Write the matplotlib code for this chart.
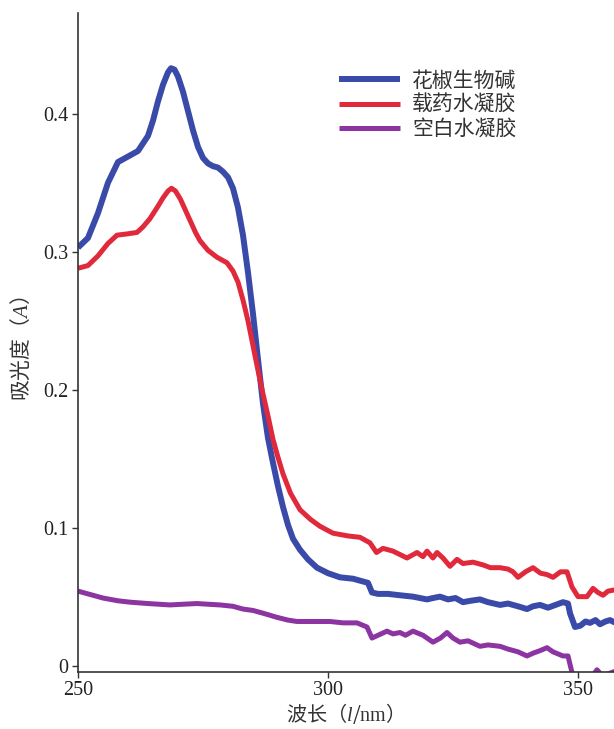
import matplotlib
matplotlib.use("Agg")
import matplotlib.pyplot as plt
from matplotlib.ticker import FixedLocator, FuncFormatter

plt.rcParams['font.family'] = ['Noto Sans CJK SC', 'DejaVu Sans']
plt.rcParams['mathtext.fontset'] = 'custom'
plt.rcParams['mathtext.rm'] = 'Liberation Serif'
plt.rcParams['mathtext.it'] = 'Liberation Serif:italic'

series_names = ["花椒生物碱", "载药水凝胶", "空白水凝胶"]

x_blue = [250, 252, 254, 256, 258, 260, 262, 264, 265, 266, 267, 268, 268.6, 269.3, 270, 271, 272, 273, 274,
          275, 276, 277, 278, 279, 280, 281, 282, 283, 284, 285, 286, 287, 288, 289, 290, 291, 292, 293,
          294.4, 296, 297.8, 300, 302.4, 305, 307, 308, 308.8, 310, 312,
          314.4, 317, 319.8, 321, 322.4, 324, 325.5, 327, 328.5, 330.4, 332, 334.4, 336, 338, 339.8, 341,
          342.4, 344, 345.5, 347, 348, 348.4, 349.4, 350.5, 351.5, 352.4, 353.5, 354.4, 355.5, 356.4, 357.5]
y_blue = [0.303, 0.310, 0.328, 0.350, 0.365, 0.369, 0.373, 0.384, 0.395, 0.409, 0.421, 0.430, 0.433, 0.432,
          0.427, 0.416, 0.402, 0.388, 0.376, 0.368, 0.364, 0.362, 0.361, 0.358, 0.354, 0.346, 0.332, 0.312,
          0.285, 0.255, 0.222, 0.190, 0.165, 0.147, 0.130, 0.115, 0.102, 0.092,
          0.084, 0.077, 0.071, 0.067, 0.064, 0.063, 0.061, 0.060, 0.053, 0.052, 0.052, 0.051, 0.050, 0.048,
          0.049, 0.050, 0.048, 0.049, 0.046, 0.047, 0.048, 0.046, 0.044, 0.045, 0.043, 0.041, 0.043, 0.044,
          0.042, 0.044, 0.046, 0.045, 0.038, 0.028, 0.029, 0.032, 0.031, 0.033, 0.030, 0.032, 0.033, 0.031]

x_red = [250, 252, 254, 256, 257.8, 260, 261.8, 263, 264.4, 266, 267, 268, 268.7, 269.5, 270.5, 271.5, 272.5,
         273.5, 274.4, 276, 277.8, 279.8, 281, 282, 283, 284, 285, 286, 287, 288, 289, 290, 291, 292.5,
         294.4, 296.5, 298.4, 301, 304, 306.4, 308.4,
         309.7, 311, 313, 315.8, 317.8, 319, 319.8, 321, 321.8, 323, 324.4, 325.8, 327, 329, 331, 332.5,
         334.4, 336, 337, 338, 339.5, 341, 342.5, 343.8, 345, 346.5, 347.8, 348.8, 350, 351.8, 353, 354,
         355, 356, 357.5]
y_red = [0.288, 0.290, 0.297, 0.306, 0.312, 0.313, 0.314, 0.318, 0.324, 0.333, 0.339, 0.344, 0.346, 0.344,
         0.338, 0.330, 0.322, 0.314, 0.308, 0.301, 0.296, 0.292, 0.286, 0.278, 0.265, 0.250, 0.232, 0.214,
         0.197, 0.181, 0.164, 0.151, 0.139, 0.125, 0.113, 0.106,
         0.101, 0.096, 0.094, 0.093, 0.089, 0.082, 0.085, 0.083, 0.078, 0.082, 0.079, 0.083, 0.078, 0.082,
         0.078, 0.072, 0.077, 0.074, 0.075, 0.073, 0.071, 0.071, 0.070, 0.068, 0.064, 0.068, 0.071, 0.067,
         0.066, 0.064, 0.068, 0.068, 0.057, 0.050, 0.050, 0.056, 0.053, 0.051, 0.054, 0.055]

x_purple = [250, 252, 255, 258, 260.4, 264, 268.4, 271, 273.8, 276, 278.4, 281, 283, 285, 287, 289.8, 292,
            293.8, 297, 300.4, 303, 305.8, 307.8, 308.8, 310, 311.8, 313, 314.4, 315.5, 317, 319, 321, 322.5,
            323.8, 325, 326.4, 328, 330.4, 332, 334.4, 336, 338, 339.8, 341, 342.5, 343.8, 345, 347, 348,
            348.8, 350, 352, 353.8, 355, 356, 357.5]
y_purple = [0.054, 0.052, 0.049, 0.047, 0.046, 0.045, 0.044, 0.0445, 0.045, 0.0445, 0.044, 0.043, 0.041, 0.040,
            0.038, 0.035, 0.033, 0.032, 0.032, 0.032, 0.031, 0.031, 0.028, 0.020, 0.022, 0.025, 0.023, 0.024,
            0.022, 0.025, 0.022, 0.017, 0.020, 0.024, 0.020, 0.017, 0.018, 0.014, 0.015, 0.014, 0.012, 0.010,
            0.007, 0.009, 0.011, 0.013, 0.010, 0.007, 0.007, -0.005, -0.015, -0.012, -0.003, -0.008, -0.006,
            -0.004]

x_ticks = [250, 300, 350]
y_ticks = [0, 0.1, 0.2, 0.3, 0.4]

fig = plt.figure(figsize=(6.14, 7.29), dpi=100)
ax = fig.add_axes([0.127, 0.0786, 0.873, 0.9035])

common = dict(solid_capstyle='butt', solid_joinstyle='round')
ax.plot(x_blue, y_blue, color='#3a4aa8', lw=4.3, label=series_names[0], **common)
ax.plot(x_red, y_red, color='#e02a3c', lw=3.6, label=series_names[1], **common)
ax.plot(x_purple, y_purple, color='#8c34a2', lw=3.6, label=series_names[2], **common)

ax.set_xlim(250, 357.2)
ax.set_ylim(-0.0044, 0.473)
ax.spines['top'].set_visible(False)
ax.spines['right'].set_visible(False)
for s in ['left', 'bottom']:
    ax.spines[s].set_linewidth(1.2)
    ax.spines[s].set_color('#333333')

ax.xaxis.set_major_locator(FixedLocator(x_ticks))
ax.yaxis.set_major_locator(FixedLocator(y_ticks))
ax.yaxis.set_major_formatter(FuncFormatter(lambda v, p: "0" if v == 0 else f"{v:.1f}"))
ax.tick_params(direction='out', length=4, width=1, color='#333333', labelsize=14.5, pad=3)
for lab in ax.get_xticklabels() + ax.get_yticklabels():
    lab.set_fontfamily('Liberation Serif')
    lab.set_color('#222222')

xl = ax.set_xlabel("波长（$\\mathit{l}$/$\\mathrm{nm}$）", fontsize=14.5, color='#333333')
xl.set_va('center')
ax.xaxis.set_label_coords(0.489, -0.064)
yl = ax.set_ylabel("吸光度（$\\mathit{A}$）", fontsize=15, color='#333333')
yl.set_va('center')
ax.yaxis.set_label_coords(-0.106, 0.491)

leg = ax.legend(loc='upper left', bbox_to_anchor=(0.472, 0.927), frameon=False, fontsize=15,
                handlelength=2.9, handletextpad=0.6, labelspacing=0.12, borderaxespad=0)
for t in leg.get_texts():
    t.set_color('#333333')

fig.savefig("out.png", dpi=100)
